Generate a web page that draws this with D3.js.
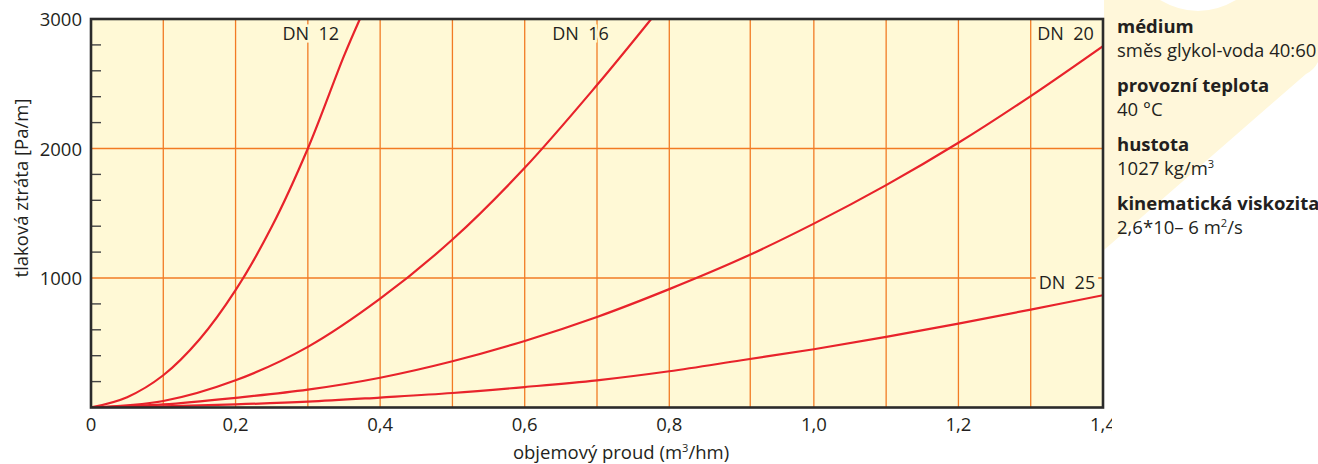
<!DOCTYPE html>
<html>
<head>
<meta charset="utf-8">
<script src="https://cdn.jsdelivr.net/npm/d3@7"></script>
<style>
  body { margin: 0; background: #ffffff; }
  svg { display: block; font-family: "Open Sans", "Noto Sans", sans-serif; }
</style>
</head>
<body>
<svg id="chart" width="1318" height="464"></svg>
<script>
// flow [m3/h] and pressure loss [Pa/m]
const q12 = [0, 0.05, 0.1, 0.15, 0.2, 0.25, 0.3, 0.35, 0.372];
const p12 = [0, 80, 249, 525, 906, 1395, 2000, 2715, 3000];

const q16 = [0, 0.1, 0.2, 0.3, 0.4, 0.5, 0.6, 0.7, 0.775];
const p16 = [0, 50, 210, 468, 840, 1297, 1851, 2490, 3000];

const q20 = [0, 0.1, 0.2, 0.3, 0.4, 0.5, 0.6, 0.7, 0.8, 0.9, 1.0, 1.1, 1.2, 1.3, 1.4];
const p20 = [0, 24, 75, 138, 230, 357, 514, 699, 914, 1150, 1420, 1717, 2044, 2405, 2791];

const q25 = [0, 0.1, 0.2, 0.3, 0.4, 0.5, 0.6, 0.7, 0.8, 0.9, 1.0, 1.1, 1.2, 1.3, 1.4];
const p25 = [0, 9, 24, 45, 77, 112, 158, 210, 280, 365, 450, 545, 648, 756, 867];

const seriesNames = ['DN  12', 'DN  16', 'DN  20', 'DN  25'];

// axis ticks and grid
const xTicks = [0, 0.2, 0.4, 0.6, 0.8, 1.0, 1.2, 1.4];
const xGrid = [0.1, 0.2, 0.3, 0.4, 0.5, 0.6, 0.7, 0.8, 0.912, 1.0, 1.1, 1.2, 1.3];
const yTicks = [1000, 2000, 3000];
const yGrid = [1000, 2000];
const yMinor = [200, 400, 600, 800, 1200, 1400, 1600, 1800, 2200, 2400, 2600, 2800];

// info block on the right; [text, superscript, rest]
const infoTitles = ['médium', 'provozní teplota', 'hustota', 'kinematická viskozita'];
const infoValues = [['směs glykol-voda 40:60', '', ''], ['40 °C', '', ''], ['1027 kg/m', '3', ''], ['2,6*10– 6 m', '2', '/s']];

function supText(sel, parts) {
    sel.append('tspan').text(parts[0]);
    if (parts[1]) {
        sel.append('tspan').attr('font-size', '60%').attr('dy', -7).text(parts[1]);
        sel.append('tspan').attr('dy', 7).text(parts[2]);
    }
}

function main() {
    const left = 91, right = 1103, top = 19, bottom = 407.5;
    const bgFill = '#fff9d6';
    const gridColor = '#f27b24';
    const curveColor = '#e8232b';
    const textColor = '#231f20';
    const fontSize = '18.5px';

    const svg = d3.select('#chart');

    const x = d3.scaleLinear().domain([0, 1.4]).range([left, right]);
    const y = d3.scaleLinear().domain([0, 3000]).range([bottom, top]);
    const fmt = d3.formatLocale({decimal: ',', thousands: '', grouping: [3], currency: ['', '']}).format('.1f');

    // pale logo shape in the background (right side)
    svg.append('path')
        .attr('d', 'M1104,0 L1160,0 Q1198,22 1236,0 L1318,0 L1318,62 Q1314,70 1306,74 L1104,250 Z')
        .attr('fill', '#fff7da');

    // plot background
    svg.append('rect')
        .attr('x', left).attr('y', top)
        .attr('width', right - left).attr('height', bottom - top)
        .attr('fill', bgFill);

    svg.append('defs').append('clipPath').attr('id', 'plotClip')
        .append('rect')
        .attr('x', left).attr('y', top)
        .attr('width', right - left).attr('height', bottom - top);

    // grid
    svg.append('g')
        .selectAll('line')
        .data(xGrid)
        .join('line')
        .attr('x1', d => x(d)).attr('x2', d => x(d))
        .attr('y1', top).attr('y2', bottom)
        .attr('stroke', gridColor)
        .attr('stroke-width', 1.3);

    svg.append('g')
        .selectAll('line')
        .data(yGrid)
        .join('line')
        .attr('x1', left).attr('x2', right)
        .attr('y1', d => y(d)).attr('y2', d => y(d))
        .attr('stroke', gridColor)
        .attr('stroke-width', 1.3);

    // minor ticks on the y axis, pointing inward
    svg.append('g')
        .selectAll('line')
        .data(yMinor)
        .join('line')
        .attr('x1', left).attr('x2', left + 10)
        .attr('y1', d => y(d)).attr('y2', d => y(d))
        .attr('stroke', '#444')
        .attr('stroke-width', 1.4);

    // curves
    const series = [
        {q: q12, p: p12},
        {q: q16, p: p16},
        {q: q20, p: p20},
        {q: q25, p: p25}
    ];
    const line = d3.line()
        .x(d => x(d[0]))
        .y(d => y(d[1]))
        .curve(d3.curveCatmullRom.alpha(0.5));

    svg.append('g')
        .attr('clip-path', 'url(#plotClip)')
        .selectAll('path')
        .data(series)
        .join('path')
        .attr('d', s => line(s.q.map((v, i) => [v, s.p[i]])))
        .attr('fill', 'none')
        .attr('stroke', curveColor)
        .attr('stroke-width', 2.2);

    // curve labels
    const labelPos = [[0.265, 2835], [0.638, 2835], [1.309, 2835], [1.311, 917]];
    const labels = svg.append('g');
    const labelText = labels.selectAll('text')
        .data(seriesNames)
        .join('text')
        .attr('x', (d, i) => x(labelPos[i][0]))
        .attr('y', (d, i) => y(labelPos[i][1]))
        .text(d => d)
        .attr('font-size', '18px')
        .attr('fill', textColor)
        .attr('stroke', bgFill)
        .attr('stroke-width', 5)
        .attr('paint-order', 'stroke')
        .style('white-space', 'pre');

    // DN 25 sits on the 1000 grid line: mask it with a box
    const bb = labelText.nodes()[3].getBBox();
    labels.insert('rect', 'text')
        .attr('x', bb.x - 3).attr('y', bb.y + 3)
        .attr('width', bb.width + 6).attr('height', bb.height - 6)
        .attr('fill', bgFill);

    // frame
    svg.append('rect')
        .attr('x', left).attr('y', top)
        .attr('width', right - left).attr('height', bottom - top)
        .attr('fill', 'none')
        .attr('stroke', '#2b2b2b')
        .attr('stroke-width', 2.6);

    // x tick labels (the last one is cut off in the original)
    svg.append('defs').append('clipPath').attr('id', 'xLabClip')
        .append('rect').attr('x', 0).attr('y', 400).attr('width', 1112).attr('height', 64);

    svg.append('g')
        .attr('clip-path', 'url(#xLabClip)')
        .selectAll('text')
        .data(xTicks)
        .join('text')
        .attr('x', d => x(d))
        .attr('y', 431)
        .attr('text-anchor', 'middle')
        .attr('font-size', fontSize)
        .attr('fill', textColor)
        .text(d => d === 0 ? '0' : fmt(d));

    // y tick labels
    svg.append('g')
        .selectAll('text')
        .data(yTicks)
        .join('text')
        .attr('x', left - 9)
        .attr('y', d => y(d) + 7)
        .attr('text-anchor', 'end')
        .attr('font-size', fontSize)
        .attr('fill', textColor)
        .text(d => d);

    // axis titles
    svg.append('text')
        .attr('x', 621)
        .attr('y', 459)
        .attr('text-anchor', 'middle')
        .attr('font-size', fontSize)
        .attr('fill', textColor)
        .call(supText, ['objemový proud (m', '3', '/hm)']);

    svg.append('text')
        .attr('transform', 'translate(28,188) rotate(-90)')
        .attr('text-anchor', 'middle')
        .attr('font-size', fontSize)
        .attr('fill', textColor)
        .text('tlaková ztráta [Pa/m]');

    // info block
    const info = svg.append('g').attr('fill', textColor).attr('font-size', fontSize);
    infoTitles.forEach(function(t, i) {
        info.append('text')
            .attr('x', 1117)
            .attr('y', 33 + i * 59)
            .attr('font-weight', 'bold')
            .text(t);
        info.append('text')
            .attr('x', 1117)
            .attr('y', 57 + i * 59)
            .call(supText, infoValues[i]);
    });
}
main();
</script>
</body>
</html>
